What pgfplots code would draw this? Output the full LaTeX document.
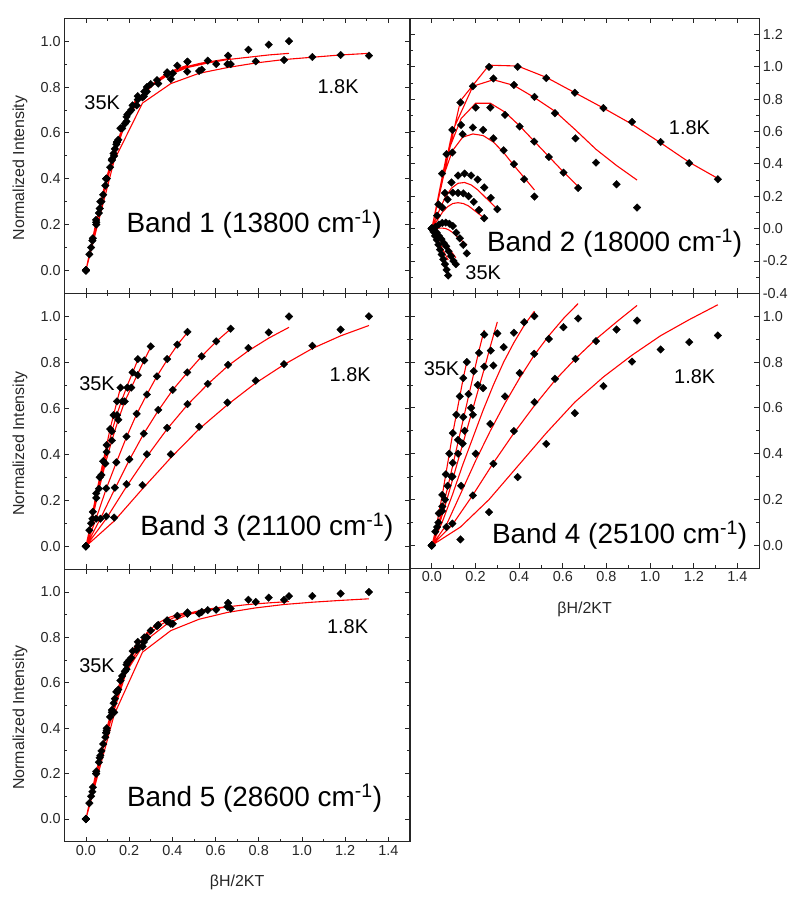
\documentclass[border=0pt]{standalone}
\usepackage{pgfplots}
\usepackage{pgfplotstable}
\pgfplotsset{compat=1.18}
\usepackage{fontspec}
\setmainfont{Liberation Sans}

\newcommand\tfs{\fontsize{14.5}{15}\selectfont}
\newcommand\lfs{\fontsize{16}{17}\selectfont}
\newcommand\bfs{\fontsize{28}{30}\selectfont}
\newcommand\kfs{\fontsize{20}{22}\selectfont}

% Band 1
\pgfplotstableread{
x d f
0 0 0
0.131 0.50 0.48
0.262 0.755 0.73
0.393 0.835 0.815
0.524 0.87 0.86
0.655 0.90 0.885
0.786 0.912 0.905
0.917 0.918 0.92
1.048 0.931 0.93
1.179 0.94 0.94
1.31 0.937 0.947
nan nan nan
0 0 0
0.094 0.40 0.39
0.188 0.67 0.66
0.282 0.80 0.79
0.376 0.864 0.85
0.47 0.91 0.885
0.564 0.915 0.905
0.658 0.937 0.92
0.752 0.963 0.93
0.846 0.985 0.94
0.94 1.0 0.947
nan nan nan
0 0 0
0.067 0.30 0.29
0.134 0.53 0.53
0.201 0.69 0.68
0.268 0.76 0.77
0.335 0.815 0.83
0.402 0.86 0.865
0.469 0.867 0.89
0.536 0.876 0.905
0.603 0.90 0.915
0.67 0.90 0.925
nan nan nan
0 0 0
0.047 0.22 0.21
0.094 0.40 0.40
0.141 0.55 0.55
0.188 0.65 0.66
0.235 0.72 0.74
0.282 0.78 0.79
0.329 0.83 0.83
0.376 0.855 0.86
0.423 0.893 0.88
0.47 0.911 0.895
nan nan nan
0 0 0
0.03 0.13 0.13
0.06 0.25 0.25
0.09 0.37 0.36
0.12 0.48 0.47
0.15 0.57 0.56
0.18 0.64 0.64
0.21 0.70 0.70
0.24 0.745 0.745
0.27 0.78 0.78
0.30 0.813 0.81
nan nan nan
0 0 0
0.024 0.10 0.10
0.048 0.20 0.20
0.072 0.30 0.30
0.096 0.40 0.39
0.12 0.485 0.47
0.144 0.56 0.55
0.168 0.62 0.61
0.192 0.68 0.67
0.216 0.72 0.72
0.24 0.76 0.76
nan nan nan
0 0 0
0.016 0.07 0.07
0.032 0.14 0.14
0.048 0.21 0.21
0.064 0.27 0.27
0.08 0.33 0.33
0.096 0.40 0.39
0.112 0.45 0.45
0.128 0.51 0.50
0.144 0.56 0.55
0.16 0.62 0.60
}\bandA

% Band 2
\pgfplotstableread{
x d f
0 0 0
0.131 0.78 0.79
0.262 1.0 1.01
0.393 1.0 1.005
0.524 0.93 0.935
0.655 0.84 0.84
0.786 0.745 0.745
0.917 0.66 0.645
1.048 0.535 0.53
1.179 0.405 0.41
1.31 0.305 0.31
nan nan nan
0 0 0
0.094 0.61 0.60
0.188 0.88 0.88
0.282 0.928 0.92
0.376 0.888 0.885
0.47 0.814 0.81
0.564 0.713 0.725
0.658 0.558 0.61
0.752 0.408 0.49
0.846 0.274 0.39
0.94 0.13 0.30
nan nan nan
0 0 0
0.067 0.46 0.45
0.134 0.64 0.68
0.201 0.748 0.775
0.268 0.748 0.775
0.335 0.703 0.72
0.402 0.631 0.635
0.469 0.538 0.54
0.536 0.443 0.445
0.603 0.346 0.35
0.67 0.251 0.26
nan nan nan
0 0 0
0.047 0.34 0.30
0.094 0.47 0.48
0.141 0.583 0.565
0.188 0.625 0.585
0.235 0.61 0.575
0.282 0.558 0.535
0.329 0.484 0.47
0.376 0.398 0.39
0.423 0.305 0.315
0.47 0.198 0.239
nan nan nan
0 0 0
0.03 0.15 0.10
0.06 0.22 0.19
0.09 0.285 0.25
0.12 0.328 0.28
0.15 0.34 0.285
0.18 0.328 0.27
0.21 0.303 0.24
0.24 0.254 0.20
0.27 0.19 0.16
0.30 0.12 0.12
nan nan nan
0 0 0
0.024 0.08 0.05
0.048 0.13 0.10
0.072 0.18 0.135
0.096 0.222 0.155
0.12 0.22 0.16
0.144 0.218 0.155
0.168 0.20 0.14
0.192 0.165 0.115
0.216 0.115 0.09
0.24 0.064 0.065
nan nan nan
0 0 0
0.016 0.01 0.0
0.032 0.025 0.003
0.048 0.035 0.003
0.064 0.037 0.0
0.08 0.03 -0.01
0.096 0.016 -0.025
0.112 -0.025 -0.045
0.128 -0.06 -0.065
0.144 -0.10 -0.083
0.16 -0.153 -0.10
nan nan nan
0 0 0
0.011 -0.01 -0.012
0.022 -0.025 -0.028
0.033 -0.045 -0.045
0.044 -0.065 -0.062
0.055 -0.09 -0.08
0.066 -0.11 -0.10
0.077 -0.14 -0.12
0.088 -0.17 -0.14
0.099 -0.20 -0.16
0.11 -0.22 -0.18
nan nan nan
0 0 0
0.0075 -0.02 -0.015
0.015 -0.045 -0.035
0.0225 -0.07 -0.055
0.03 -0.10 -0.075
0.0375 -0.13 -0.095
0.045 -0.16 -0.115
0.0525 -0.19 -0.135
0.06 -0.22 -0.155
0.0675 -0.255 -0.175
0.075 -0.29 -0.195
}\bandB

% Band 3
\pgfplotstableread{
x d f
0 0 0
0.131 0.125 0.11
0.262 0.266 0.25
0.393 0.40 0.385
0.524 0.52 0.51
0.655 0.625 0.615
0.786 0.72 0.71
0.917 0.792 0.79
1.048 0.872 0.86
1.179 0.942 0.915
1.31 1.0 0.96
nan nan nan
0 0 0
0.094 0.13 0.12
0.188 0.27 0.26
0.282 0.40 0.39
0.376 0.515 0.51
0.47 0.618 0.615
0.564 0.706 0.705
0.658 0.789 0.785
0.752 0.862 0.85
0.846 0.93 0.905
0.94 0.999 0.952
nan nan nan
0 0 0
0.067 0.12 0.12
0.134 0.255 0.25
0.201 0.378 0.375
0.268 0.49 0.49
0.335 0.593 0.59
0.402 0.68 0.68
0.469 0.756 0.755
0.536 0.826 0.826
0.603 0.891 0.89
0.67 0.946 0.945
nan nan nan
0 0 0
0.047 0.12 0.12
0.094 0.252 0.25
0.141 0.365 0.365
0.188 0.477 0.475
0.235 0.576 0.575
0.282 0.66 0.66
0.329 0.739 0.74
0.376 0.814 0.81
0.423 0.877 0.875
0.47 0.932 0.93
nan nan nan
0 0 0
0.03 0.12 0.12
0.06 0.25 0.245
0.09 0.36 0.36
0.12 0.46 0.46
0.15 0.55 0.55
0.18 0.63 0.63
0.21 0.69 0.69
0.24 0.744 0.75
0.27 0.808 0.81
0.30 0.869 0.865
nan nan nan
0 0 0
0.024 0.10 0.10
0.048 0.21 0.21
0.072 0.31 0.31
0.096 0.41 0.41
0.12 0.50 0.50
0.144 0.57 0.575
0.168 0.63 0.64
0.192 0.69 0.70
0.216 0.756 0.755
0.24 0.814 0.81
nan nan nan
0 0 0
0.016 0.07 0.07
0.032 0.15 0.15
0.048 0.23 0.23
0.064 0.30 0.30
0.08 0.37 0.37
0.096 0.44 0.44
0.112 0.51 0.51
0.128 0.57 0.57
0.144 0.63 0.63
0.16 0.69 0.69
}\bandC

% Band 4
\pgfplotstableread{
x d f
0 0 0
0.131 0.026 0.08
0.262 0.145 0.20
0.393 0.298 0.345
0.524 0.443 0.49
0.655 0.577 0.625
0.786 0.695 0.735
0.917 0.802 0.83
1.048 0.855 0.915
1.179 0.887 0.985
1.31 0.916 1.05
nan nan nan
0 0 0
0.094 0.095 0.09
0.188 0.218 0.22
0.282 0.356 0.36
0.376 0.499 0.49
0.47 0.625 0.61
0.564 0.727 0.72
0.658 0.814 0.815
0.752 0.891 0.90
0.846 0.942 0.975
0.94 0.981 1.047
nan nan nan
0 0 0
0.067 0.08 0.09
0.134 0.26 0.23
0.201 0.40 0.37
0.268 0.53 0.50
0.335 0.65 0.62
0.402 0.752 0.73
0.469 0.836 0.83
0.536 0.901 0.915
0.603 0.952 0.99
0.67 0.99 1.055
nan nan nan
0 0 0
0.047 0.15 0.10
0.094 0.30 0.22
0.141 0.444 0.35
0.188 0.57 0.47
0.235 0.686 0.59
0.282 0.785 0.70
0.329 0.865 0.80
0.376 0.928 0.885
0.423 0.974 0.96
0.47 1.0 1.022
nan nan nan
0 0 0
0.03 0.10 0.08
0.06 0.20 0.17
0.09 0.30 0.27
0.12 0.40 0.37
0.15 0.50 0.47
0.18 0.60 0.57
0.21 0.70 0.67
0.24 0.78 0.77
0.27 0.85 0.875
0.30 0.925 0.975
nan nan nan
0 0 0
0.024 0.08 0.07
0.048 0.17 0.16
0.072 0.26 0.25
0.096 0.36 0.35
0.12 0.46 0.45
0.144 0.56 0.55
0.168 0.66 0.65
0.192 0.76 0.75
0.216 0.84 0.85
0.24 0.92 0.94
nan nan nan
0 0 0
0.016 0.06 0.06
0.032 0.14 0.14
0.048 0.22 0.22
0.064 0.31 0.31
0.08 0.40 0.40
0.096 0.49 0.49
0.112 0.57 0.57
0.128 0.65 0.65
0.144 0.73 0.73
0.16 0.80 0.80
}\bandD

% Band 5
\pgfplotstableread{
x d f
0 0 0
0.131 0.47 0.46
0.262 0.76 0.735
0.393 0.86 0.83
0.524 0.905 0.88
0.655 0.935 0.91
0.786 0.956 0.93
0.917 0.965 0.945
1.048 0.982 0.955
1.179 0.993 0.963
1.31 1.0 0.97
nan nan nan
0 0 0
0.094 0.38 0.37
0.188 0.68 0.65
0.282 0.80 0.79
0.376 0.87 0.86
0.47 0.905 0.90
0.564 0.92 0.92
0.658 0.952 0.935
0.752 0.966 0.945
0.846 0.975 0.952
0.94 0.982 0.958
nan nan nan
0 0 0
0.067 0.28 0.27
0.134 0.53 0.52
0.201 0.70 0.68
0.268 0.78 0.79
0.335 0.855 0.85
0.402 0.86 0.885
0.469 0.905 0.905
0.536 0.912 0.92
0.603 0.922 0.93
0.67 0.927 0.937
nan nan nan
0 0 0
0.047 0.20 0.19
0.094 0.38 0.37
0.141 0.56 0.53
0.188 0.66 0.66
0.235 0.745 0.76
0.282 0.80 0.82
0.329 0.85 0.86
0.376 0.875 0.885
0.423 0.895 0.90
0.47 0.91 0.91
nan nan nan
0 0 0
0.03 0.12 0.12
0.06 0.25 0.25
0.09 0.36 0.36
0.12 0.47 0.47
0.15 0.57 0.57
0.18 0.65 0.65
0.21 0.71 0.72
0.24 0.76 0.77
0.27 0.80 0.80
0.30 0.83 0.83
nan nan nan
0 0 0
0.024 0.10 0.10
0.048 0.20 0.20
0.072 0.30 0.30
0.096 0.39 0.39
0.12 0.48 0.48
0.144 0.56 0.56
0.168 0.63 0.63
0.192 0.69 0.69
0.216 0.74 0.74
0.24 0.78 0.78
nan nan nan
0 0 0
0.016 0.07 0.07
0.032 0.14 0.14
0.048 0.21 0.21
0.064 0.27 0.27
0.08 0.33 0.33
0.096 0.40 0.40
0.112 0.45 0.45
0.128 0.51 0.51
0.144 0.56 0.56
0.16 0.61 0.61
}\bandE

\pgfplotsset{
  panel/.style={
    scale only axis, anchor=north west,
    xmin=-0.1, xmax=1.5,
    xtick={0,0.2,0.4,0.6,0.8,1.0,1.2,1.4},
    minor x tick num=1, minor y tick num=1,
    tick align=inside,
    major tick length=5bp, minor tick length=3bp,
    axis line style={line width=1.1bp, black!85},
    every tick/.style={black!85, line width=0.8bp},
    tick label style={font=\tfs, text=black!85},
    label style={font=\lfs, text=black!85},
    /pgf/number format/assume math mode=true,
    /pgf/number format/fixed, /pgf/number format/fixed zerofill,
    /pgf/number format/precision=1,
    clip=false,
  },
  stdy/.style={ymin=-0.1, ymax=1.1, ytick={0,0.2,0.4,0.6,0.8,1.0}},
  dat/.style={only marks, mark=square*, mark size=2.7bp,
    mark options={rotate=45, fill=black, draw=black, line width=0.3bp}},
  fit/.style={red, line width=1.1bp, no markers, unbounded coords=jump},
  ylab/.style={ylabel={Normalized Intensity},
    ylabel style={at={(axis description cs:-0.128,0.456)}, anchor=center}},
  xlab/.style={xlabel={βH/2KT},
    xlabel style={at={(axis description cs:0.5,-0.148)}, anchor=center}},
}

\begin{document}
\begin{tikzpicture}
\useasboundingbox (0,0) rectangle (800bp,901bp);

% Panel 1
\begin{axis}[panel, stdy, ylab, at={(64.3bp,882.7bp)}, width=345.7bp, height=275bp,
  xticklabels={}]
\addplot[dat] table[x=x,y=d]{\bandA};
\addplot[fit] table[x=x,y=f]{\bandA};
\node[anchor=base west, font=\bfs] at (axis cs:0.172,0.165) {Band 1 (13800 cm\textsuperscript{-1})};
\node[anchor=base west, font=\kfs] at (axis cs:-0.023,0.704) {35K};
\node[anchor=base west, font=\kfs] at (axis cs:1.056,0.772) {1.8K};
\end{axis}

% Panel 2
\begin{axis}[panel, at={(410bp,882.7bp)}, width=349.3bp, height=275bp,
  ymin=-0.4, ymax=1.3, ytick={-0.4,-0.2,0,0.2,0.4,0.6,0.8,1.0,1.2},
  yticklabel pos=right, xticklabels={}]
\addplot[dat] table[x=x,y=d]{\bandB};
\addplot[fit] table[x=x,y=f]{\bandB};
\node[anchor=base west, font=\bfs] at (axis cs:0.237,-0.139) {Band 2 (18000 cm\textsuperscript{-1})};
\node[anchor=base west, font=\kfs] at (axis cs:0.138,-0.313) {35K};
\node[anchor=base west, font=\kfs] at (axis cs:1.07,0.583) {1.8K};
\end{axis}

% Panel 3
\begin{axis}[panel, stdy, ylab, at={(64.3bp,607.7bp)}, width=345.7bp, height=276bp,
  xticklabels={}]
\addplot[dat] table[x=x,y=d]{\bandC};
\addplot[fit] table[x=x,y=f]{\bandC};
\node[anchor=base west, font=\bfs] at (axis cs:0.236,0.045) {Band 3 (21100 cm\textsuperscript{-1})};
\node[anchor=base west, font=\kfs] at (axis cs:-0.047,0.676) {35K};
\node[anchor=base west, font=\kfs] at (axis cs:1.112,0.717) {1.8K};
\end{axis}

% Panel 4
\begin{axis}[panel, stdy, xlab, at={(410bp,607.7bp)}, width=349.3bp, height=275bp,
  yticklabel pos=right]
\addplot[dat] table[x=x,y=d]{\bandD};
\addplot[fit] table[x=x,y=f]{\bandD};
\node[anchor=base west, font=\bfs] at (axis cs:0.26,0.007) {Band 4 (25100 cm\textsuperscript{-1})};
\node[anchor=base west, font=\kfs] at (axis cs:-0.053,0.741) {35K};
\node[anchor=base west, font=\kfs] at (axis cs:1.094,0.705) {1.8K};
\end{axis}

% Panel 5
\begin{axis}[panel, stdy, ylab, xlab, at={(64.3bp,331.7bp)}, width=345.7bp, height=272.4bp]
\addplot[dat] table[x=x,y=d]{\bandE};
\addplot[fit] table[x=x,y=f]{\bandE};
\node[anchor=base west, font=\bfs] at (axis cs:0.174,0.055) {Band 5 (28600 cm\textsuperscript{-1})};
\node[anchor=base west, font=\kfs] at (axis cs:-0.047,0.644) {35K};
\node[anchor=base west, font=\kfs] at (axis cs:1.10,0.817) {1.8K};
\end{axis}
\end{tikzpicture}
\end{document}
